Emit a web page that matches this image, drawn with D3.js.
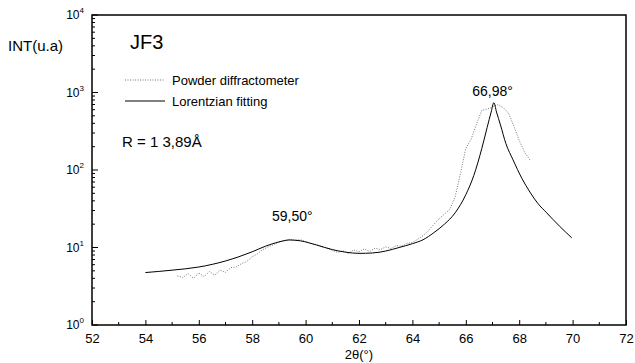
<!DOCTYPE html>
<html><head><meta charset="utf-8">
<script src="https://cdn.jsdelivr.net/npm/d3@7"></script>
<style>body{margin:0;background:#fff}svg{display:block}text{font-family:"Liberation Sans",Arial,sans-serif}</style>
</head><body><svg id="c" width="635" height="363"></svg>
<script>
const xTicks = [52,54,56,58,60,62,64,66,68,70,72];
const yTicks = [0,1,2,3,4];
const fitX = [54.0,55.0,56.0,57.0,57.5,58.0,58.5,59.0,59.4,59.8,60.4,61.0,61.5,62.0,62.5,63.0,63.5,64.0,64.4,64.8,65.2,65.6,66.0,66.3,66.6,66.8,66.95,67.05,67.15,67.3,67.5,67.77,68.1,68.4,68.7,69.03,69.5,69.97];
const fitY = [4.75,5.1,5.6,6.7,7.6,8.8,10.4,11.8,12.5,12.2,10.8,9.4,8.7,8.4,8.5,9.0,10.0,11.2,12.6,15.5,20,28,48,85,190,355,560,740,560,380,220,135,78,52,37,28,19,13.3];
const powX = [55.2,55.4,55.6,55.8,56.0,56.2,56.4,56.6,56.8,57.0,57.2,57.4,57.6,57.8,58.0,58.2,58.4,58.6,58.8,59.0,59.2,59.4,59.6,59.8,60.0,60.2,60.4,60.6,60.8,61.0,61.2,61.4,61.6,61.8,62.0,62.2,62.4,62.6,62.8,63.0,63.2,63.4,63.6,63.8,64.0,64.2,64.4,64.6,64.8,65.0,65.2,65.4,65.6,65.8,66.0,66.2,66.4,66.6,66.8,67.0,67.2,67.4,67.6,67.8,68.0,68.2,68.4];
const powY = [4.3,4.1,4.6,4.0,4.7,4.2,4.9,4.4,5.1,4.8,5.5,5.6,6.2,6.6,7.6,8.3,9.4,10.2,10.9,11.8,12.2,12.8,12.4,12.6,11.9,11.2,10.9,10.3,9.8,9.2,8.6,9.1,8.4,9.3,8.8,9.6,8.9,9.8,9.4,10.2,9.7,10.6,10.4,11.3,11.6,12.8,14.2,16.5,19.8,23.5,27,31,45,90,190,250,390,590,610,650,700,640,540,370,240,170,135];

const svg = d3.select("#c");
const L=92,R=626,T=15,B=325;
const x = d3.scaleLinear().domain([52,72]).range([L,R]);
const y = d3.scaleLog().domain([1,10000]).range([B,T]);

svg.append("rect").attr("x",L).attr("y",T).attr("width",R-L).attr("height",B-T)
  .attr("fill","none").attr("stroke","#000").attr("stroke-width",1.5);

const xAxis = d3.axisBottom(x).tickValues(xTicks).tickSize(-5).tickSizeOuter(0).tickFormat(d3.format("d"));
const gx = svg.append("g").attr("transform",`translate(0,${B})`).call(xAxis);
gx.select(".domain").remove();
gx.selectAll("line").attr("stroke","#000");
gx.selectAll("text").attr("y",9).attr("font-size",13).attr("fill","#000");
const xMinor = d3.range(53,72,2);
svg.append("g").selectAll("line").data(xMinor).join("line")
  .attr("x1",d=>x(d)).attr("x2",d=>x(d)).attr("y1",B).attr("y2",B-3).attr("stroke","#000");

const yMajor = yTicks.map(e=>Math.pow(10,e));
svg.append("g").selectAll("line").data(yMajor).join("line")
  .attr("x1",L).attr("x2",L+6).attr("y1",d=>y(d)).attr("y2",d=>y(d)).attr("stroke","#000");
const yMinor = [];
for(let e=0;e<4;e++) for(let m=2;m<10;m++) yMinor.push(m*Math.pow(10,e));
svg.append("g").selectAll("line").data(yMinor).join("line")
  .attr("x1",L).attr("x2",L+3).attr("y1",d=>y(d)).attr("y2",d=>y(d)).attr("stroke","#000");
const yl = svg.append("g").selectAll("text").data(yTicks).join("text")
  .attr("x",L-8).attr("y",d=>y(Math.pow(10,d))+4).attr("text-anchor","end").attr("font-size",12);
yl.append("tspan").text("10");
yl.append("tspan").attr("dy",-6).attr("font-size",8).text(d=>d);

svg.append("text").attr("x",8).attr("y",51).attr("font-size",15).text("INT(u.a)");
svg.append("text").attr("x",x(62)).attr("y",359).attr("text-anchor","middle").attr("font-size",13).text("2θ(°)");

const line = d3.line().x(d=>x(d[0])).y(d=>y(d[1]));
svg.append("path").datum(powX.map((v,i)=>[v,powY[i]]))
  .attr("d",line).attr("fill","none").attr("stroke","#777").attr("stroke-width",1).attr("stroke-dasharray","1,1.5");
svg.append("path").datum(fitX.map((v,i)=>[v,fitY[i]]))
  .attr("d",line.curve(d3.curveMonotoneX)).attr("fill","none").attr("stroke","#000").attr("stroke-width",1);

svg.append("text").attr("x",130).attr("y",49).attr("font-size",20).text("JF3");
svg.append("line").attr("x1",125).attr("x2",165).attr("y1",80).attr("y2",80)
  .attr("stroke","#777").attr("stroke-dasharray","1,1.5");
svg.append("text").attr("x",172).attr("y",85).attr("font-size",13).text("Powder diffractometer");
svg.append("line").attr("x1",125).attr("x2",165).attr("y1",101).attr("y2",101).attr("stroke","#000");
svg.append("text").attr("x",172).attr("y",106).attr("font-size",13).text("Lorentzian fitting");
svg.append("text").attr("x",122).attr("y",147).attr("font-size",15).text("R = 1 3,89Å");
svg.append("text").attr("x",x(59.5)).attr("y",221).attr("text-anchor","middle").attr("font-size",14).text("59,50°");
svg.append("text").attr("x",x(67.0)).attr("y",96).attr("text-anchor","middle").attr("font-size",14).text("66,98°");
</script></body></html>
